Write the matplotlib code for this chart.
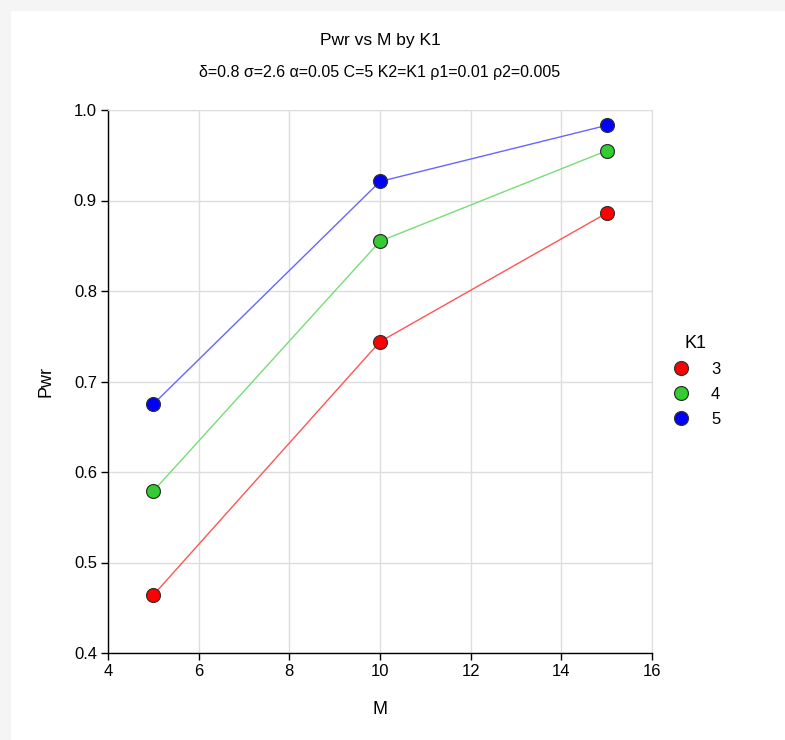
import matplotlib.pyplot as plt
from matplotlib.patches import Rectangle
from matplotlib.lines import Line2D

plt.rcParams['font.family'] = ['Liberation Sans', 'DejaVu Sans']

# ---------- data ----------
m_values = [5, 10, 15]
k1_levels = ['3', '4', '5']
pwr_k3 = [0.464, 0.744, 0.886]
pwr_k4 = [0.579, 0.855, 0.955]
pwr_k5 = [0.675, 0.921, 0.983]
x_ticks = [4, 6, 8, 10, 12, 14, 16]
y_ticks = [0.4, 0.5, 0.6, 0.7, 0.8, 0.9, 1.0]

marker_colors = ['#ff0000', '#33cc33', '#0000ff']
line_colors = ['#ff5555', '#77dd77', '#6666ff']

fig = plt.figure(figsize=(7.85, 7.4), dpi=100, facecolor='white')
# grey frame strips at top and left
fig.patches.append(Rectangle((0, 1 - 10 / 740), 1, 10 / 740, transform=fig.transFigure,
                             color='#f5f5f5', zorder=0))
fig.patches.append(Rectangle((0, 0), 10 / 785, 1, transform=fig.transFigure,
                             color='#f5f5f5', zorder=0))

ax = fig.add_axes([108 / 785, 87 / 740, 544 / 785, 543 / 740])

for vals, mc, lc in zip([pwr_k3, pwr_k4, pwr_k5], marker_colors, line_colors):
    ax.plot(m_values, vals, color=lc, lw=1.0, zorder=3)
    ax.plot(m_values, vals, 'o', ms=10, mfc=mc, mec='#333333', mew=0.9, zorder=4)

ax.set_xlim(4, 16)
ax.set_ylim(0.4, 1.0)
ax.set_xticks(x_ticks)
ax.set_yticks(y_ticks)
ax.set_yticklabels([f"{v:.1f}" for v in y_ticks])
ax.grid(True, color='#dddddd', lw=1.0)
ax.set_axisbelow(True)
for s in ['top', 'right']:
    ax.spines[s].set_color('#dddddd')
for s in ['left', 'bottom']:
    ax.spines[s].set_color('black')
    ax.spines[s].set_linewidth(1.0)
ax.tick_params(direction='out', length=5, width=1, labelsize=12, colors='black', pad=3)

ax.set_xlabel('M', fontsize=13, labelpad=16)
ax.set_ylabel('Pwr', fontsize=13, labelpad=14)

fig.text(380 / 785, 1 - 40 / 740, 'Pwr vs M by K1', ha='center', va='center', fontsize=12.5)
fig.text(380 / 785, 1 - 72 / 740, 'δ=0.8 σ=2.6 α=0.05 C=5 K2=K1 ρ1=0.01 ρ2=0.005',
         ha='center', va='center', fontsize=11.5)

handles = [Line2D([], [], ls='none', marker='o', ms=10, mfc=mc, mec='#333333', mew=0.9)
           for mc in marker_colors]
leg = fig.legend(handles, k1_levels, title='K1', loc='upper left',
                 bbox_to_anchor=(656 / 785, 1 - 320 / 740), frameon=False,
                 fontsize=12, title_fontsize=13, handletextpad=1.2, labelspacing=0.6,
                 handlelength=1.2)

fig.savefig('out.png', dpi=100, facecolor='white')
